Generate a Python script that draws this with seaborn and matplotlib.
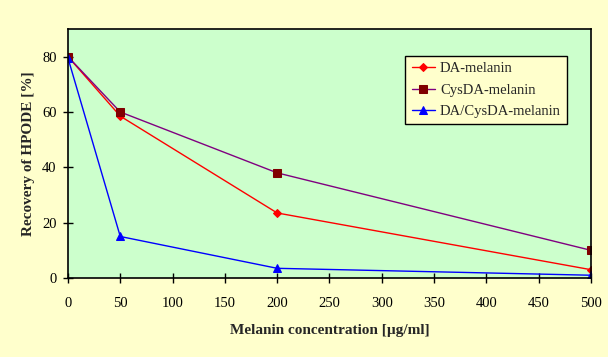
import pandas as pd
import matplotlib
matplotlib.use('Agg')
import matplotlib.pyplot as plt
import seaborn as sns

# 數據
conc = [0, 50, 200, 500]
da_melanin = [80, 58.5, 23.5, 3]
cysda_melanin = [80, 60, 38, 10]
da_cysda_melanin = [79.5, 15, 3.5, 1]

series_names = ['DA-melanin', 'CysDA-melanin', 'DA/CysDA-melanin']

df = pd.DataFrame({
    'conc': conc * 3,
    'recovery': da_melanin + cysda_melanin + da_cysda_melanin,
    'series': [n for n in series_names for _ in conc],
})

sns.set_style('ticks')
plt.rcParams['font.family'] = ['Liberation Serif', 'DejaVu Serif']

fig = plt.figure(figsize=(6.08, 3.57), dpi=100, facecolor='#FFFFCC')
ax = fig.add_axes([0.1118, 0.2213, 0.8602, 0.6975])
ax.set_facecolor('#CCFFCC')

line_colors = ['#FF0000', '#800080', '#0000FF']
marker_colors = ['#FF0000', '#800000', '#0000FF']
markers = ['D', 's', '^']
msizes = [4, 5.5, 6]

for name, lc, mc, mk, ms in zip(series_names, line_colors, marker_colors, markers, msizes):
    sub = df[df['series'] == name]
    sns.lineplot(data=sub, x='conc', y='recovery', ax=ax, color=lc, lw=1,
                 marker=mk, markersize=ms, markerfacecolor=mc, markeredgecolor=mc,
                 label=name)

ax.set_xlim(0, 500)
ax.set_ylim(0, 90)
ax.set_xticks(range(0, 501, 50))
ax.set_yticks(range(0, 81, 20))
ax.tick_params(direction='inout', length=7.5, width=1, labelsize=10.5, colors='black')
ax.tick_params(axis='x', pad=10)
ax.tick_params(axis='y', pad=4.5)
for s in ax.spines.values():
    s.set_color('black')
    s.set_linewidth(1.2)
    s.set_visible(True)

ax.set_xlabel('Melanin concentration [µg/ml]', fontsize=11, fontweight='bold', labelpad=10)
ax.set_ylabel('Recovery of HPODE [%]', fontsize=11, fontweight='bold', labelpad=5)

leg = ax.legend(loc='upper right', bbox_to_anchor=(0.955, 0.893), fontsize=10.5,
                frameon=True, fancybox=False, facecolor='#FFFFCC', edgecolor='black',
                framealpha=1, handlelength=1.6, handletextpad=0.35, borderpad=0.45,
                borderaxespad=0, labelspacing=0.55)
leg.get_frame().set_linewidth(1)

fig.savefig('out.png', dpi=100, facecolor=fig.get_facecolor())
